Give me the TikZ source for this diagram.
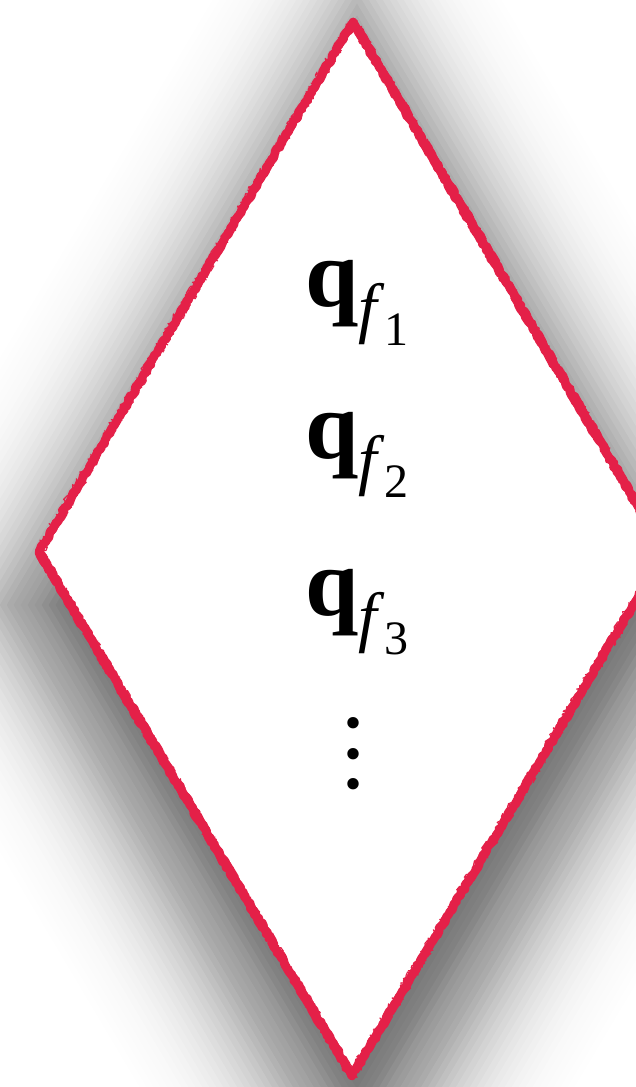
\documentclass[tikz,border=0pt]{standalone}
\usepackage{fontspec}
\setmainfont{Liberation Serif}
\usetikzlibrary{decorations.pathmorphing}
\definecolor{sketchred}{RGB}{228,32,72}
\newcommand{\qfsub}[1]{\textbf{q}{\fontsize{67}{67}\selectfont\raisebox{-24pt}{\textit{f}\raisebox{-15pt}{\fontsize{48}{48}\selectfont #1}}}}
\tikzset{
  label text/.style={inner sep=0pt, anchor=base west, font=\fontsize{96}{96}\selectfont},
  dot text/.style={inner sep=0pt, anchor=center, font=\fontsize{96}{96}\selectfont},
  sketch/.style={draw=sketchred, line join=round, line cap=round, decorate,
    decoration={random steps, segment length=3pt, amplitude=1.3pt}},
  fuzz/.style={draw=sketchred, line join=round, line cap=round, decorate,
    decoration={random steps, segment length=1.5pt, amplitude=3.6pt}},
}
\begin{document}
\begin{tikzpicture}[x=1pt,y=1pt]
\useasboundingbox (0,0) rectangle (636,1087);
\fill[white] (0,0) rectangle (636,1087);
\coordinate (T) at (353,1065);
\coordinate (R) at (665,535);
\coordinate (B) at (352,11);
\coordinate (L) at (39,535);
% soft drop shadow: stacked translucent copies of the diamond, offset inward/outward
\foreach \o in {-220,-214,...,220}{
  \pgfmathsetmacro{\s}{1+\o/269}
  \pgfmathsetmacro{\op}{0.034*exp(-0.5*(\o/70)*(\o/70))}
  \begin{scope}[shift={(357,482)}, scale=\s]
    \fill[black, opacity=\op] (0,527) -- (313,0) -- (0,-527) -- (-313,0) -- cycle;
  \end{scope}
}
% white diamond
\fill[white] (T) -- (R) -- (B) -- (L) -- cycle;
% sketchy red outline
\pgfmathsetseed{11}
\draw[sketch, line width=8.5pt] (T) -- (R) -- (B) -- (L) -- cycle;
\pgfmathsetseed{23}
\draw[sketch, line width=5pt] ([xshift=1.8pt,yshift=1pt]T) -- ([xshift=1.8pt,yshift=1pt]R) -- ([xshift=1.8pt,yshift=1pt]B) -- ([xshift=1.8pt,yshift=1pt]L) -- cycle;
\pgfmathsetseed{37}
\draw[sketch, line width=5pt] ([xshift=-1.8pt,yshift=-1pt]T) -- ([xshift=-1.8pt,yshift=-1pt]R) -- ([xshift=-1.8pt,yshift=-1pt]B) -- ([xshift=-1.8pt,yshift=-1pt]L) -- cycle;
\pgfmathsetseed{51}
\draw[fuzz, line width=1.4pt] (T) -- (R) -- (B) -- (L) -- cycle;
\pgfmathsetseed{67}
\draw[fuzz, line width=1.1pt] ([xshift=2pt]T) -- ([xshift=2pt]R) -- ([xshift=2pt]B) -- ([xshift=2pt]L) -- cycle;
\pgfmathsetseed{83}
\draw[fuzz, line width=1.1pt] ([xshift=-2pt,yshift=1pt]T) -- ([xshift=-2pt,yshift=1pt]R) -- ([xshift=-2pt,yshift=1pt]B) -- ([xshift=-2pt,yshift=1pt]L) -- cycle;
% labels
\node[label text] (q1) at (305,780) {\qfsub{1}};
\node[label text] (q2) at (305,628) {\qfsub{2}};
\node[label text] (q3) at (305,471) {\qfsub{3}};
\node[dot text] (dots) at (353,333) {\vbox{\baselineskip=30.5pt\lineskiplimit=-100pt\hbox{.}\hbox{.}\hbox{.}}};
\end{tikzpicture}
\end{document}
